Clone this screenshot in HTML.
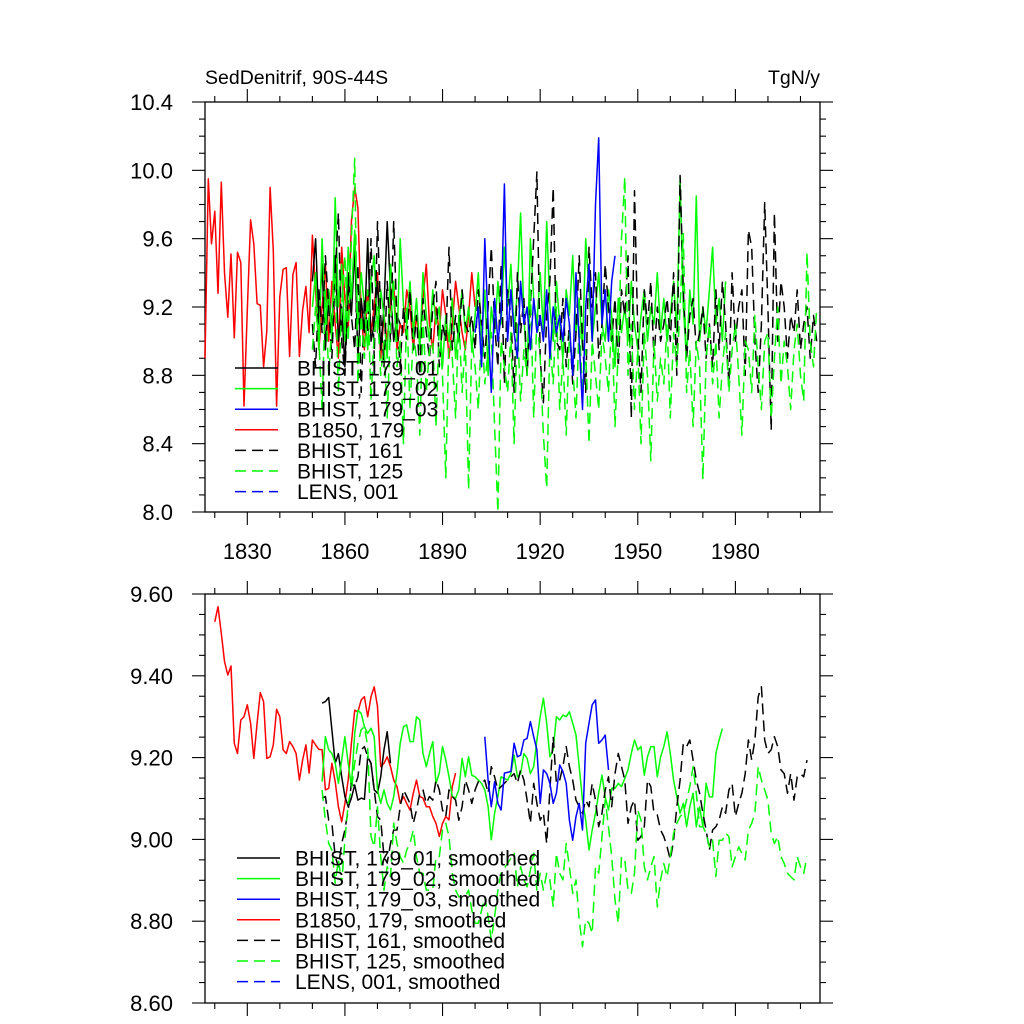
<!DOCTYPE html>
<html><head><meta charset="utf-8"><style>
body{margin:0;background:#fff}
svg{display:block;font-family:"Liberation Sans",sans-serif}
</style></head><body>
<svg id="chart" width="1024" height="1024" viewBox="0 0 1024 1024"></svg>
<script>
// ---------- DATA ----------
const xMin = 1817, xMax = 2006;
const xTickLabels = [1830, 1860, 1890, 1920, 1950, 1980];
const topYTicks = [8.0, 8.4, 8.8, 9.2, 9.6, 10.0, 10.4];
const botYTicks = [8.60, 8.80, 9.00, 9.20, 9.40, 9.60];

// Top panel raw series
const redStart = 1817;
const redRaw = [8.90,9.95,9.57,9.76,9.28,9.93,9.40,9.14,9.51,9.02,9.52,9.46,8.62,9.18,9.71,9.57,9.22,9.21,8.85,9.06,9.90,9.53,8.62,9.26,9.42,9.43,8.91,9.39,9.46,8.91,9.18,9.32,
9.05,9.62,9.30,8.95,9.20,9.45,9.00,9.35,9.10,8.90,9.55,9.25,9.05,9.70,9.90,9.78,9.15,8.95,9.30,9.05,9.20,9.40,8.90,9.15,9.00,9.25,9.35,8.95,9.10,9.05,9.30,9.20,8.95,9.15,9.00,9.25,9.45,9.10,8.95,9.20,9.05,9.30,9.15,8.90,9.10,9.35,9.20,9.05,8.95,9.15,9.40,9.20];
const blackStart = 1850;
const blackRaw = [9.35,9.60,9.10,9.45,8.95,9.30,9.05,9.50,9.00,9.20,8.85,9.40,9.15,9.55,8.90,9.25,9.05,9.60,9.00,9.10,9.35,8.95,9.20,9.70,9.30,9.00,9.15,9.10];
const greenStart = 1850;
const greenRaw = [9.20,9.40,8.95,9.60,9.10,9.30,9.00,9.84,9.20,9.45,
9.00,9.55,9.25,9.65,9.10,9.40,9.20,8.95,9.35,9.50,
9.05,9.30,9.15,8.90,9.45,9.25,9.00,9.60,9.20,9.10,
9.35,9.05,9.25,8.95,9.40,9.15,9.00,9.30,9.10,9.20,
8.85,9.15,9.00,9.25,8.90,9.10,9.30,9.05,9.20,8.95,
9.15,9.40,9.00,9.30,8.80,9.20,9.05,9.35,9.10,9.55,
9.20,9.45,9.05,9.30,9.75,9.15,8.80,9.60,9.25,9.10,
9.40,9.05,9.70,9.20,9.00,9.35,9.10,8.90,9.30,9.15,
9.50,9.05,9.25,8.95,9.60,9.30,9.00,9.20,9.40,9.10,
9.00,9.30,9.15,8.85,9.25,9.05,9.20,9.00,9.35,9.10,
8.95,9.15,9.30,9.00,9.20,9.10,9.40,9.05,9.25,9.00,
9.15,9.35,9.05,9.95,9.20,8.90,9.30,9.10,9.85,9.00,
9.20,9.05,9.30,9.55,9.10,9.25,9.00,9.35];
const blueStart = 1900;
const blueRaw = [9.05,9.20,8.85,9.60,9.10,8.70,9.25,9.00,9.15,9.92,
9.00,9.30,9.05,8.90,9.35,9.10,9.20,8.95,9.25,9.05,
9.15,9.00,9.30,8.90,9.20,9.05,9.15,9.00,9.25,9.10,
8.80,9.40,9.00,8.60,9.20,9.45,9.00,9.80,10.19,9.10,
9.30,9.00,9.35,9.50];
const blackDashStart = 1850;
const blackDashRaw = [9.10,8.85,9.30,9.05,9.50,9.20,8.90,9.40,9.75,9.00,
8.80,9.30,9.15,8.95,9.45,8.70,9.25,9.05,9.60,8.90,
9.70,9.15,8.85,9.35,9.00,9.70,9.10,8.85,9.20,9.00,
9.30,8.95,9.15,8.80,9.25,9.05,8.90,9.20,9.35,8.85,
9.10,9.00,9.55,8.95,9.15,9.00,9.30,9.10,9.05,9.15,
8.95,9.30,9.10,8.90,9.20,9.55,9.10,8.85,9.45,8.75,
9.30,9.15,8.70,9.40,9.05,9.25,8.80,9.20,9.60,9.99,
8.90,8.64,9.15,9.35,9.90,9.00,8.95,9.25,8.85,9.10,
8.75,9.05,9.50,9.00,8.70,9.55,9.20,9.40,8.90,9.10,
9.45,9.20,9.00,9.25,8.85,9.30,9.15,9.50,8.55,9.88,
9.05,8.70,9.30,9.10,9.35,8.90,9.20,9.00,9.10,9.25,
9.00,9.40,8.80,9.97,9.30,8.90,9.15,9.25,8.95,9.05,
9.20,8.90,9.10,8.85,9.30,8.95,9.35,9.10,8.75,9.40,
9.00,9.20,9.30,8.80,9.65,9.55,9.00,8.70,9.10,9.81,
9.20,8.48,9.75,9.00,9.35,9.20,8.90,9.15,9.05,9.30,
8.95,9.10,9.20,8.90,9.15,9.00];
const greenDashStart = 1850;
const greenDashRaw = [8.95,9.20,9.00,8.60,9.30,8.80,9.10,9.40,8.70,9.20,
9.50,9.00,9.60,10.07,8.75,9.15,8.90,9.30,8.65,9.05,
9.20,8.80,9.00,8.55,9.10,9.35,8.85,9.00,8.40,9.20,
8.60,9.05,8.90,8.45,9.15,8.70,8.95,9.00,8.50,9.10,
8.80,8.20,9.05,8.90,8.55,9.15,8.70,9.00,8.13,9.00,
8.85,8.60,9.10,8.75,8.95,9.05,8.50,8.00,9.00,8.85,
8.70,9.05,8.40,9.10,8.65,8.95,8.80,9.30,8.55,9.15,
8.90,8.45,8.14,9.00,8.75,9.20,8.60,8.90,8.45,9.05,
8.85,8.55,9.10,8.70,8.95,8.40,9.00,8.80,8.60,9.05,
8.90,8.70,9.15,8.50,8.95,9.60,9.96,8.80,9.10,8.60,
8.95,8.40,9.05,8.80,8.30,9.00,8.65,8.90,8.75,9.10,
8.55,9.05,8.85,9.20,9.63,8.70,8.95,8.50,9.00,8.85,
8.19,8.90,9.10,8.75,9.00,8.55,8.85,9.05,8.70,8.95,
9.10,8.80,8.45,9.00,8.95,8.70,9.15,8.85,8.60,9.00,
9.05,8.55,8.90,9.20,8.75,9.00,8.85,8.60,8.95,9.10,
8.80,8.65,9.52,9.00,8.85,9.20];

// Bottom panel smoothed series (each in two segments)
const redSmStart = 1820;
const redSm = [9.532,9.569,9.504,9.435,9.402,9.424,9.235,9.210,9.292,9.300,9.329,9.284,9.198,9.284,9.359,9.337,9.198,9.202,9.231,9.318,9.300,9.219,9.210,9.239,9.227,9.210,9.145,9.194,9.231,9.162,9.243,9.231,9.220,9.219,9.121,9.125,9.186,9.141,9.080,9.043,9.088,9.145,9.235,9.316,9.312,9.341,9.349,9.300,9.349,9.373,9.325,9.178,9.186,9.202,9.178,9.145,9.129,9.088,9.105,9.088,9.072,9.113,9.145,9.105,9.101,9.080,9.080,9.056,9.039,9.007,9.039,9.056,9.048,9.129,9.162];
const blackSmStart = 1853;
const blackSm = [9.333,9.337,9.347,9.268,9.186,9.210,9.153,9.105,9.080,9.101,9.133,9.096,9.101,9.098,9.202,9.186,9.121,9.113,9.153,9.219,9.263,9.186];
const greenSmStart = 1853;
const greenSm = [9.141,9.251,9.219,9.210,9.186,9.137,9.194,9.251,9.186,9.129,9.259,9.316,9.308,9.276,9.259,9.272,9.251,9.121,9.088,9.121,9.088,9.072,9.105,9.162,9.235,9.276,9.280,9.239,9.239,9.300,9.292,9.210,9.178,9.210,9.239,9.137,9.162,9.227,9.194,9.153,9.105,9.101,9.121,9.198,9.153,9.202,9.157,9.153,9.145,9.137,9.121,9.080,8.999,9.064,9.105,9.153];
const greenSm2Start = 1910;
const greenSm2 = [9.145,9.161,9.206,9.153,9.161,9.210,9.198,9.161,9.178,9.243,9.300,9.345,9.284,9.202,9.219,9.300,9.292,9.304,9.300,9.312,9.284,9.255,9.178,9.096,9.047,8.974,9.023,9.064,9.113,9.157,9.104,9.072,9.125,9.125,9.137,9.129,9.149,9.170,9.210,9.243,9.219,9.227,9.157,9.202,9.227,9.227,9.153,9.202,9.227,9.263,9.210,9.145,9.104,9.064,9.088,9.031,9.080,9.113,9.031,9.080,9.031,9.137,9.104,9.104,9.210,9.243,9.271];
const blueSmStart = 1903;
const blueSm = [9.251,9.145,9.080,9.141,9.088,9.072,9.162];
const blueSm2Start = 1911;
const blueSm2 = [9.166,9.235,9.202,9.206,9.243,9.247,9.288,9.251,9.219,9.088,9.170,9.161,9.137,9.088,9.113,9.182,9.166,9.137,9.047,8.998,9.056,9.088,9.023,9.235,9.284,9.329,9.341,9.235,9.243,9.255,9.170];
const blackDashSmStart = 1853;
const blackDashSm = [9.101,9.105,9.047,9.039,8.958,8.933,8.990,9.023,9.072,9.137,9.129,9.153,9.219,9.227,9.202,9.186,9.121,9.056,9.047,8.958,8.942,8.990,9.023,9.023,9.080,9.121,9.105,9.088,9.039,9.072,9.113,9.121,9.088,9.105,9.096,9.145,9.121,9.072,9.056,9.121,9.105,9.096,9.047,9.080,9.145,9.121,9.088,9.121,9.141,9.137,9.145,9.113,9.178,9.153,9.121,9.129];
const blackDashSm2Start = 1912;
const blackDashSm2 = [9.161,9.137,9.170,9.145,9.096,9.039,9.137,9.088,9.047,9.064,8.990,9.121,9.251,9.137,9.145,9.178,9.227,9.178,9.145,9.096,9.080,9.064,9.096,9.080,9.137,9.096,9.031,9.064,9.121,9.153,9.080,9.161,9.210,9.178,9.145,9.039,9.080,9.096,8.998,9.007,9.031,9.145,9.129,9.064,9.060,9.023,9.007,8.982,8.950,8.998,9.080,9.145,9.235,9.227,9.243,9.194,9.145,9.113,9.064,9.023,8.974,9.023,9.031,9.047,9.080,9.064,9.121,9.137,9.056,9.088,9.113,9.161,9.243,9.194,9.243,9.349,9.373,9.243,9.210,9.219,9.251,9.227,9.170,9.161,9.113,9.161,9.096,9.153,9.161,9.153,9.194];
const greenDashSmStart = 1853;
const greenDashSm = [9.121,9.047,8.990,8.974,8.893,8.950,8.893,8.999,9.088,9.121,9.186,9.235,9.268,9.276,9.227,9.007,8.982,9.080,8.958,8.876,8.933,8.909,9.039,8.990,8.958,8.942,8.974,8.990,9.023,8.958,8.917,8.917,8.876,8.876,8.876,8.958,8.958,9.023,9.039,9.007,8.917,8.876,8.860,8.860,8.860,8.876,8.827,8.795,8.795,8.827,8.860,8.811,8.754,8.811,8.876,8.917];
const greenDashSm2Start = 1912;
const greenDashSm2 = [8.966,8.884,8.933,8.901,8.884,8.925,8.966,8.876,8.917,8.876,8.917,8.901,8.835,8.966,8.917,8.901,8.990,8.933,8.868,8.901,8.803,8.738,8.803,8.795,8.770,8.933,8.917,9.007,9.096,9.031,8.958,8.852,8.795,8.958,8.950,8.876,8.868,8.917,9.072,9.047,8.933,8.901,8.933,8.958,8.835,8.901,8.941,8.909,8.958,9.015,9.039,9.056,9.064,9.096,9.129,9.178,9.113,9.031,9.031,9.015,8.982,8.998,8.909,8.998,8.998,9.015,9.007,8.933,8.958,8.982,8.966,8.950,9.023,9.039,9.064,9.178,9.145,9.121,9.096,9.015,8.990,9.007,8.958,8.941,8.917,8.909,8.901,8.958,8.933,8.917,8.958];

const topLegendLabels = ["BHIST, 179_01","BHIST, 179_02","BHIST, 179_03","B1850, 179","BHIST, 161","BHIST, 125","LENS, 001"];
const botLegendLabels = ["BHIST, 179_01, smoothed","BHIST, 179_02, smoothed","BHIST, 179_03, smoothed","B1850, 179, smoothed","BHIST, 161, smoothed","BHIST, 125, smoothed","LENS, 001, smoothed"];

// ---------- DRAWING ----------
const NS = "http://www.w3.org/2000/svg";
const svg = document.getElementById('chart');
const X0 = 205, X1 = 820;
const TOP = {y0: 102, y1: 512, min: 8.0, max: 10.4, minorStep: 0.1, fmt: v => v.toFixed(1)};
const BOT = {y0: 594, y1: 1003, min: 8.6, max: 9.6, minorStep: 0.05, fmt: v => v.toFixed(2)};
function xs(yr){ return X0 + (yr - xMin) / (xMax - xMin) * (X1 - X0); }
function ys(p, v){ return p.y1 - (v - p.min) / (p.max - p.min) * (p.y1 - p.y0); }
function mk(tag, attrs, parent){
  const e = document.createElementNS(NS, tag);
  for (const k in attrs) e.setAttribute(k, attrs[k]);
  (parent || svg).appendChild(e);
  return e;
}
const COL = {black:'#000', green:'#00ff00', blue:'#0000ff', red:'#ff0000'};
const DASH = '11 6';

function series(p, segs, color, dashed, name){
  const pts = [];
  segs.forEach(([start, vals]) => vals.forEach((v, i) => pts.push(xs(start + i).toFixed(1) + ',' + ys(p, v).toFixed(1))));
  const el = mk('polyline', {points: pts.join(' '), fill: 'none', stroke: color, 'stroke-width': 1.5, 'stroke-linejoin': 'round'});
  if (dashed) el.setAttribute('stroke-dasharray', DASH);
  
  
}

function axes(p, label, prefix){
  const g = mk('g', {});
  
  
  mk('rect', {x: X0, y: p.y0, width: X1 - X0, height: p.y1 - p.y0, fill: 'none', stroke: '#000', 'stroke-width': 1.3}, g);
  for (let yr = 1820; yr <= xMax; yr += 10){
    const x = xs(yr), major = xTickLabels.includes(yr);
    const L = major ? 13 : 6;
    mk('line', {x1: x, x2: x, y1: p.y1, y2: p.y1 + L, stroke: '#000', 'stroke-width': 1.1}, g);
    mk('line', {x1: x, x2: x, y1: p.y0, y2: p.y0 - L, stroke: '#000', 'stroke-width': 1.1}, g);
    if (label && major){
      const t = mk('text', {x: x, y: p.y1 + 47, 'text-anchor': 'middle', 'font-size': 22}, g);
      t.textContent = yr;
      
      
    }
  }
  const n = Math.round((p.max - p.min) / p.minorStep);
  for (let i = 0; i <= n; i++){
    const v = p.min + i * p.minorStep, y = ys(p, v);
    const major = i % 4 === 0, L = major ? 13 : 6;
    mk('line', {x1: X0, x2: X0 - L, y1: y, y2: y, stroke: '#000', 'stroke-width': 1.1}, g);
    mk('line', {x1: X1, x2: X1 + L, y1: y, y2: y, stroke: '#000', 'stroke-width': 1.1}, g);
  }
  const ticks = prefix === 'top' ? topYTicks : botYTicks;
  ticks.forEach(v => {
    const t = mk('text', {x: 173, y: ys(p, v) + 8, 'text-anchor': 'end', 'font-size': 22}, g);
    t.textContent = p.fmt(v);
    
    
  });
}

function legend(x, tx, y0, labels, prefix){
  const styles = [['black',0],['green',0],['blue',0],['red',0],['black',1],['green',1],['blue',1]];
  labels.forEach((lab, i) => {
    const y = y0 + i * 20.6;
    const g = mk('g', {});
    
    
    const l = mk('line', {x1: x, x2: x + 43, y1: y, y2: y, stroke: COL[styles[i][0]], 'stroke-width': 1.5}, g);
    if (styles[i][1]) l.setAttribute('stroke-dasharray', DASH);
    const t = mk('text', {x: tx, y: y + 7.5, 'font-size': 21}, g);
    t.textContent = lab;
  });
}

axes(TOP, true, 'top');
axes(BOT, false, 'bottom');

series(TOP, [[redStart, redRaw]], COL.red, false, 'b1850-179-line');
series(TOP, [[blackStart, blackRaw]], COL.black, false, 'bhist-179-01-line');
series(TOP, [[greenStart, greenRaw]], COL.green, false, 'bhist-179-02-line');
series(TOP, [[blackDashStart, blackDashRaw]], COL.black, true, 'bhist-161-line');
series(TOP, [[greenDashStart, greenDashRaw]], COL.green, true, 'bhist-125-line');
series(TOP, [[blueStart, blueRaw]], COL.blue, false, 'bhist-179-03-line');

series(BOT, [[redSmStart, redSm]], COL.red, false, 'b1850-179-smoothed-line');
series(BOT, [[blackSmStart, blackSm]], COL.black, false, 'bhist-179-01-smoothed-line');
series(BOT, [[greenSmStart, greenSm],[greenSm2Start, greenSm2]], COL.green, false, 'bhist-179-02-smoothed-line');
series(BOT, [[blackDashSmStart, blackDashSm],[blackDashSm2Start, blackDashSm2]], COL.black, true, 'bhist-161-smoothed-line');
series(BOT, [[greenDashSmStart, greenDashSm],[greenDashSm2Start, greenDashSm2]], COL.green, true, 'bhist-125-smoothed-line');
series(BOT, [[blueSmStart, blueSm],[blueSm2Start, blueSm2]], COL.blue, false, 'bhist-179-03-smoothed-line');

legend(235, 297, 368, topLegendLabels, 'top');
legend(237, 295, 858, botLegendLabels, 'bottom');

const t1 = mk('text', {x: 205, y: 84, 'font-size': 19.5});
t1.textContent = 'SedDenitrif, 90S-44S';


const t2 = mk('text', {x: 820, y: 84, 'font-size': 19.5, 'text-anchor': 'end'});
t2.textContent = 'TgN/y';


</script>
</body></html>
